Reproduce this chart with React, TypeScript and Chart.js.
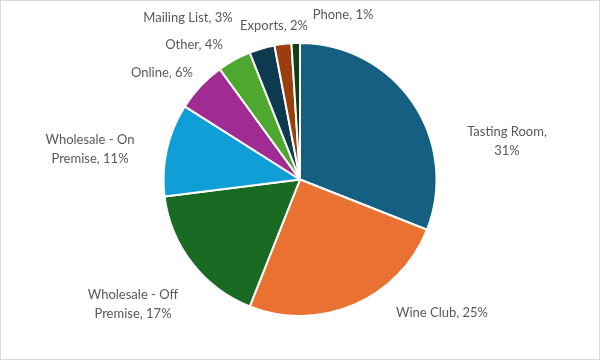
import React, { useEffect, useRef } from "react";
import { Chart, registerables } from "chart.js";

Chart.register(...registerables);

const categories = [
  "Tasting Room",
  "Wine Club",
  "Wholesale - Off Premise",
  "Wholesale - On Premise",
  "Online",
  "Other",
  "Mailing List",
  "Exports",
  "Phone",
];
const shares = [31, 25, 17, 11, 6, 4, 3, 2, 1];
const labelLines = [
  ["Tasting Room,", "31%"],
  ["Wine Club, 25%"],
  ["Wholesale - Off", "Premise, 17%"],
  ["Wholesale - On", "Premise, 11%"],
  ["Online, 6%"],
  ["Other, 4%"],
  ["Mailing List, 3%"],
  ["Exports, 2%"],
  ["Phone, 1%"],
];
const colors = [
  "#156082",
  "#E97132",
  "#196B24",
  "#0F9ED5",
  "#A02B93",
  "#4EA72E",
  "#0D3A4E",
  "#9C3D0E",
  "#0F4015",
];
// label block centres, relative to pie centre
const labelOffsets = [
  [207, -38],
  [142, 133],
  [-167, 125],
  [-210, -30],
  [-138, -107],
  [-106, -135],
  [-112, -162],
  [-26, -154],
  [43, -165],
];

const labelPlugin = {
  id: "outsideLabels",
  afterDatasetsDraw(chart: any) {
    const ctx = chart.ctx;
    const meta = chart.getDatasetMeta(0);
    ctx.save();
    ctx.font = "13px Lato";
    ctx.fillStyle = "#595959";
    ctx.textAlign = "center";
    ctx.textBaseline = "middle";
    const lh = 19;
    meta.data.forEach((arc: any, i: number) => {
      const lines = labelLines[i];
      const cx = arc.x + labelOffsets[i][0];
      const cy = arc.y + labelOffsets[i][1];
      const y0 = cy - ((lines.length - 1) * lh) / 2;
      lines.forEach((t, j) => ctx.fillText(t, cx, y0 + j * lh));
    });
    ctx.strokeStyle = "#D9D9D9";
    ctx.lineWidth = 1;
    ctx.strokeRect(0.5, 0.5, chart.width - 1, chart.height - 1);
    ctx.restore();
  },
};

export default function App() {
  const ref = useRef<HTMLCanvasElement | null>(null);
  useEffect(() => {
    document.body.style.margin = "0";
    const chart = new Chart(ref.current as HTMLCanvasElement, {
      type: "pie",
      data: {
        labels: categories,
        datasets: [
          {
            data: shares,
            backgroundColor: colors,
            borderColor: "#FFFFFF",
            borderWidth: 2,
          },
        ],
      },
      options: {
        responsive: false,
        animation: false,
        layout: { padding: { top: 42, bottom: 43, left: 0, right: 0 } },
        plugins: {
          legend: { display: false },
          tooltip: { enabled: false },
        },
      },
      plugins: [labelPlugin],
    });
    return () => chart.destroy();
  }, []);
  return (
    <div style={{ width: 600, height: 360, background: "#fff" }}>
      <canvas ref={ref} width={600} height={360} />
    </div>
  );
}
